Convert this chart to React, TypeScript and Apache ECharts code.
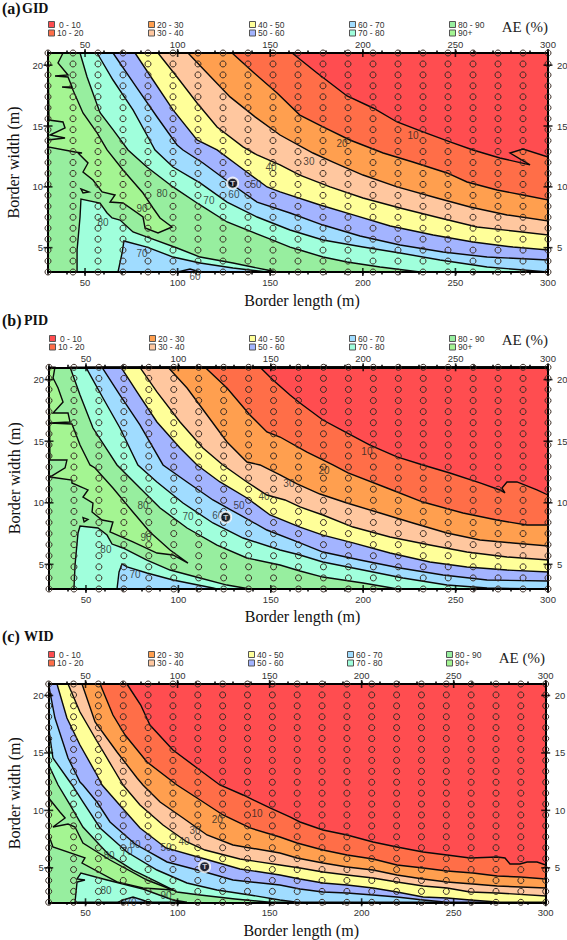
import React, { useEffect, useRef } from "react";
import * as echarts from "echarts";

type Pt = [number, number];
type Lab = [number, number, string];

const legendLabels = ["0 - 10", "10 - 20", "20 - 30", "30 - 40", "40 - 50", "50 - 60", "60 - 70", "70 - 80", "80 - 90", "90+"];
const bandColors = ["#FF4D50", "#FF6E48", "#FF9F4F", "#FFC79F", "#FFFF99", "#A3B4FF", "#A0DCFF", "#A0FFDC", "#97EE9F", "#A4F592"];
const lengthTicks = [50, 100, 150, 200, 250, 300];
const widthTicks = [5, 10, 15, 20];
const sampleLengths = [30, 43.5, 57, 70.5, 84, 97.5, 111, 124.5, 138, 151.5, 165, 178.5, 192, 205.5, 219, 232.5, 246, 259.5, 273, 286.5, 300];
const sampleWidthsAB = [3, 3.9, 4.8, 5.7, 6.6, 7.5, 8.4, 9.3, 10.2, 11.1, 12, 12.9, 13.8, 14.7, 15.6, 16.5, 17.4, 18.3, 19.2, 20.1, 21];
const sampleWidthsC = [2, 2.95, 3.9, 4.85, 5.8, 6.75, 7.7, 8.65, 9.6, 10.55, 11.5, 12.45, 13.4, 14.35, 15.3, 16.25, 17.2, 18.15, 19.1, 20.05, 21];

// ---------- (a) GID ----------
const gid10: Pt[] = [[161.8,21],[175.3,19.36],[191.5,17.47],[205.5,16.48],[218.5,15.33],[232.5,14.51],[247.1,13.69],[259.5,13.03],[274,12.37],[290.3,11.8],[279.5,12.78],[286.5,13.11],[300,12.45]];
const gid20: Pt[] = [[129.4,21],[140.7,19.44],[153.7,17.71],[166,15.9],[178.5,14.92],[193,13.85],[211,12.78],[227,12.04],[245.5,11.14],[256.3,10.4],[272.5,9.74],[286.5,9.33],[300,8.92]];
const gid30: Pt[] = [[105.6,21],[115.9,19.36],[128.3,17.39],[141.8,15.75],[155.3,14.26],[173.1,12.78],[183.9,12.04],[200.1,10.97],[218.5,9.99],[240,9.08],[257.9,8.34],[277.9,7.69],[300,7.19]];
const gid40: Pt[] = [[89.4,21],[99.7,19.03],[110.5,16.89],[121.3,14.92],[135.3,13.28],[142.9,12.62],[155.3,11.8],[166,10.97],[182.3,9.99],[200.1,9.08],[220.1,8.26],[241.7,7.44],[261.7,6.7],[281.1,6.37],[300,6.04]];
const gid50: Pt[] = [[77,21],[86.7,18.78],[97.5,16.32],[110.5,13.85],[121.3,13.03],[133.7,11.63],[148.3,9.99],[155.3,9.58],[176.9,8.51],[194.8,7.69],[214.8,6.78],[238,6.04],[259.5,5.47],[281.1,5.05],[300,4.81]];
const gid60: Pt[] = [[65.1,21],[78.1,18.12],[88.9,15.74],[99.7,13.44],[102.9,13.03],[113.7,11.96],[128.3,10.32],[142.9,8.75],[160.7,7.85],[178.5,6.86],[198.5,5.96],[220.1,5.22],[243.3,4.64],[267.1,4.23],[300,3.99]];
const gid70: Pt[] = [[56.5,21],[65.1,18.78],[75.9,16.32],[83.4,14.26],[87.8,13.03],[97.5,11.63],[112.1,10.32],[126.7,8.75],[142.9,7.52],[160.7,6.45],[178.5,5.63],[200.1,5.05],[220.1,4.56],[241.7,3.99],[267.1,3.41],[300,3]];
const gid80: Pt[] = [[47.3,21],[51.1,19.03],[58.1,16.1],[65.1,14.7],[73.2,13.03],[83.4,11.63],[97.5,9.99],[112.1,8.51],[126.7,7.11],[148.3,5.8],[160.7,5.05],[166,4.81],[178.5,4.23],[191.5,3.82],[209.3,3.41],[230.9,3]];
const gid90Lobe: Pt[] = [[38.1,21],[35.4,20.18],[40.8,19.19],[33.8,19.11],[40.8,19.03],[43,18.21],[37.6,18.21],[43,18.12],[48.9,16.07],[56.5,14.43],[61.9,13.03],[70.5,11.38],[81.3,9.49],[86.7,8.26],[90.5,7.44],[97,6.7],[89.4,6.21],[82.4,6.62],[81.3,7.52],[70.5,8.67],[63.5,8.75],[66.2,9.33],[59.2,9.58],[54.3,10.56],[48.9,11.22],[51.6,11.96],[46.2,12.78],[48.4,12.78],[44.6,12.86],[30,13.28],[30,13.85],[39.2,14.01],[31.1,14.26],[39.2,14.84],[38.1,15.33],[30.5,15.49],[30,21]];
const gid90Islet: Pt[] = [[47.8,9.82],[52.1,9.58],[48.9,9.49]];
const gidLow80: Pt[] = [[45.7,3],[45.7,4.81],[47.3,7.52],[47.8,9],[58.1,8.67],[61.9,7.85],[64.6,7.44],[68.9,7.27],[75.9,6.29],[85.1,5.79],[99.7,4.97],[112.1,4.23],[129.9,3.74],[148.3,3.16],[153.7,3]];
const gidLow70: Pt[] = [[67.8,3],[70,4.56],[71,5.55],[83.5,5.05],[97.5,4.23],[112.1,3.74],[129.9,3.33],[148.3,3]];
const gidLow60: Pt[] = [[100,3],[106.7,3.25],[112.1,3]];
const gidLabels: Lab[] = [[227.1,14.26,"10"],[188.8,13.6,"20"],[170.9,12.12,"30"],[150.4,11.55,"40"],[142.3,10.23,"50"],[130.4,9.41,"60"],[116.9,8.84,"70"],[91.6,9.49,"80"],[80.8,8.26,"90"],[59.7,7.03,"80"],[80.8,4.56,"70"],[109.4,2.67,"60"]];
const gidOptimum: Pt = [129.7, 10.3];

// ---------- (b) PID ----------
const pid10: Pt[] = [[144.2,21],[151.2,19.97],[160.4,18.75],[165.8,18.1],[178.2,16.72],[191.2,15.67],[203.7,14.69],[218.3,13.72],[232.3,13.07],[246.9,12.42],[263.2,11.61],[274,11.04],[276.7,10.8],[275.1,11.2],[277.8,11.69],[283.2,11.69],[294,11.04],[300,10.63]];
const pid20: Pt[] = [[114.4,21],[126.3,19.32],[138.7,17.13],[147.9,15.75],[155,15.34],[169.6,14.12],[183.6,13.07],[191.8,12.42],[212.9,11.2],[232.3,10.06],[254,9.17],[272.4,8.6],[288.6,8.2],[300,8.2]];
const pid30: Pt[] = [[94.4,21],[104.7,19.32],[115.5,17.13],[126.3,14.94],[137.1,13.31],[144.2,13.07],[155,12.26],[164.2,11.53],[176.6,10.71],[191.2,9.98],[209.1,9.17],[226.9,8.36],[245.3,7.55],[263.2,6.98],[281,6.74],[300,6.49]];
const pid40: Pt[] = [[79.2,21],[88.4,19],[100.9,16.56],[113.3,14.45],[124.1,13.07],[137.1,11.69],[147.9,10.63],[157.7,10.23],[165.8,9.66],[178.2,9.01],[194.5,8.03],[214.5,7.22],[236.1,6.57],[256.1,6],[277.8,5.6],[300,5.35]];
const pid50: Pt[] = [[69,21],[77.6,19],[88.4,16.56],[100.9,14.45],[110.1,13.07],[122.5,11.69],[137.1,10.39],[149.6,9.01],[165.8,8.03],[178.2,7.38],[194.5,6.74],[214.5,5.92],[236.1,5.19],[256.1,4.79],[277.8,4.54],[300,4.38]];
const pid60: Pt[] = [[58.7,21],[68.4,18.75],[79.2,16.32],[91.7,13.07],[104.7,11.69],[118.7,10.23],[133.3,9.01],[147.9,7.79],[165.8,6.74],[178.2,6],[198.3,5.35],[219.9,4.71],[243.2,4.14],[267,3.73],[300,3.65]];
const pid70: Pt[] = [[50,21],[59.2,18.51],[68.4,16.07],[78.1,13.07],[88.4,11.69],[102.5,9.98],[118.7,8.36],[135,7.14],[155,6.17],[165.8,5.76],[178.2,5.19],[199.9,4.54],[221.5,3.89],[245.3,3.32],[267,3.08],[300,3]];
const pid80: Pt[] = [[41.4,21],[46.8,18.75],[53.8,16.07],[66.8,13.07],[77.6,11.44],[90.1,9.58],[104.7,7.95],[120.9,6.57],[137.1,5.52],[155,4.95],[165.8,4.46],[178.2,3.97],[199.9,3.49],[218.8,3]];
const pid90Lobe: Pt[] = [[33.2,21],[32.2,20.13],[34.9,19.32],[37.6,18.18],[32.2,17.29],[40.3,17.29],[41.4,16.56],[30.5,16.48],[42.4,16.4],[46.8,14.69],[52.2,13.07],[54.9,12.83],[64.6,11.2],[75.4,9.25],[84.6,7.63],[95.5,6.17],[105.2,5.11],[97.1,5.76],[88.4,5.92],[75.4,6.82],[63,7.63],[64.6,8.44],[58.7,8.6],[53.3,9.25],[53.8,9.98],[48.4,10.47],[51.1,11.04],[42.4,11.61],[42.4,11.85],[30.5,12.09],[38.7,12.83],[39.7,13.47],[30.5,13.47],[30,21]];
const pid90Islet: Pt[] = [[48.4,8.8],[51.1,8.65],[49,8.45]];
const pidLow80: Pt[] = [[43.5,3],[44.1,4.95],[45.7,7.55],[46.8,8.12],[56.5,7.95],[61.4,7.38],[64.1,6.65],[70,6.33],[83,5.35],[95.5,4.54],[111.7,3.89],[126.3,3.32],[138.7,3]];
const pidLow70: Pt[] = [[66.8,3],[67.9,4.38],[69.5,5.03],[72.2,4.79],[83,4.3],[97.1,3.73],[118.7,3.08],[120.9,3]];
const pidLabels: Lab[] = [[202,14.2,"10"],[178.8,12.66,"20"],[159.8,11.6,"30"],[146.3,10.55,"40"],[132.8,9.82,"50"],[121.4,8.93,"60"],[105.2,8.85,"70"],[80.9,9.82,"80"],[82.5,7.22,"90"],[60.8,6.17,"80"],[76.5,4.14,"70"]];
const pidOptimum: Pt = [125.6, 8.83];

// ---------- (c) WID ----------
const wid10: Pt[] = [[72.5,21],[80,19.17],[85,17.43],[97.5,15.25],[110.6,13.69],[123,12.21],[135.6,11.34],[150.2,10.21],[161.3,9.42],[166.5,8.99],[179,8.29],[192.1,7.86],[206.2,7.25],[219.2,6.81],[233.4,6.38],[246.4,6.12],[258.9,5.86],[273.6,5.94],[277.9,5.86],[280.6,5.33],[286,5.33],[289.9,5.51],[295.3,5.51],[300,5.25]];
const wid20: Pt[] = [[57.9,21],[64.9,18.3],[71.5,16.56],[83.4,14.21],[99.7,12.21],[110.6,11.08],[124.7,9.6],[139.4,8.47],[155.6,7.68],[164.9,7.16],[179,6.55],[192.1,6.12],[206.2,5.77],[219.2,5.25],[233.4,4.99],[246.4,4.72],[260.5,4.55],[273.6,4.29],[286,4.2],[300,4.03]];
const wid30: Pt[] = [[48.1,21],[55.2,17.69],[67.1,15.08],[78,12.82],[81.2,12.21],[90.5,10.73],[103,9.34],[116,7.86],[130.1,6.99],[155.6,6.29],[164.9,5.86],[179,5.42],[192.1,5.07],[206.2,4.81],[219.2,4.38],[233.4,4.03],[246.4,3.77],[260.5,3.59],[273.6,3.42],[300,3.24]];
const wid40: Pt[] = [[40.5,21],[47,18.56],[55.2,16.3],[64.9,13.69],[70.4,12.21],[79.6,10.47],[92.1,8.73],[105.1,7.25],[114.9,6.55],[133.9,5.77],[155.6,5.25],[166.5,4.99],[179,4.64],[192.1,4.38],[206.2,4.11],[219.2,3.77],[233.4,3.42],[246.4,3.24],[258.9,2.9],[273.6,2.81],[300,2.55]];
const wid50: Pt[] = [[34.5,21],[39.9,18.04],[47,15.69],[56.2,13.08],[59,12.21],[67.1,10.73],[79.6,8.47],[93.7,6.73],[114.9,5.77],[133.9,4.9],[155.6,4.38],[166.5,4.03],[179,3.68],[192.1,3.51],[206.2,3.24],[219.2,2.9],[233.4,2.46],[246.4,2.37],[258.9,2.2],[273.6,2.03],[282.3,2]];
const wid60: Pt[] = [[30,21],[30.7,20.3],[33.4,18.04],[40.5,14.56],[47,12.47],[48.6,12.21],[56.2,10.73],[63.3,8.99],[76.9,7.07],[94.3,5.51],[114.9,4.64],[130.1,3.94],[155.6,3.51],[166.5,3.16],[179,2.9],[192.1,2.81],[206.2,2.64],[219.2,2.46],[233.4,2.2],[246.4,2]];
const wid70: Pt[] = [[30,17.17],[32.3,14.56],[42.7,12.21],[48.6,10.73],[57.9,8.47],[72.5,6.38],[88.8,4.81],[105.1,3.68],[121.4,3.07],[139.3,2.64],[155.6,2.2],[164.9,2]];
const wid80: Pt[] = [[30,13.95],[35.1,12.21],[41.6,10.47],[48.6,8.55],[62.8,6.12],[75.8,4.81],[88.8,3.77],[99.7,2.9],[112.2,2.64],[131.2,2.29],[150.2,2]];
const wid90Lobe: Pt[] = [[30,11.08],[36.1,9.86],[38.9,9.34],[32.3,8.55],[40.5,8.81],[44.3,8.55],[48.6,7.16],[63.3,5.68],[83.4,3.94],[97.5,3.07],[81.2,3.24],[67.1,3.77],[48.1,5.42],[49.7,5.86],[32.3,6.81],[30,7.86]];
const widLow80: Pt[] = [[44.3,2],[45.4,3.77],[49.7,3.94],[45.4,4.03],[47.5,4.55],[61.7,3.94],[81.2,3.16],[97.5,2.2],[105.1,2]];
const widLow70: Pt[] = [[67.6,2],[70.4,2.2],[75.8,2.46],[83.4,2.07],[86.1,2]];
const widLabels: Lab[] = [[143.2,9.77,"10"],[121.6,9.25,"20"],[109.5,8.21,"30"],[103.5,7.25,"40"],[93.7,6.73,"50"],[76.9,7.07,"60"],[72.5,6.38,"70"],[62.8,6.03,"80"],[61.1,3.07,"80"],[93.7,2.55,"90"],[74.7,2.02,"70"]];
const widOptimum: Pt = [114.7, 5.1];

// Painter's order: each curve fills towards the upper right of the plot.
const panels = [
  { tag: "(a)", name: "GID", tagY: 8, box: { left: 48, top: 53, width: 500, height: 219 }, yMin: 3, samples: sampleWidthsAB, legendX: [51, 151, 252, 352, 452], legendY: 24.5, aeX: 548, aeY: 27, nameX: 22, gap: 20,
    upper: [gid80, gid70, gid60, gid50, gid40, gid30, gid20, gid10], lobes: [gid90Lobe, gid90Islet], low: [gidLow80, gidLow70, gidLow60], labels: gidLabels, optimum: gidOptimum },
  { tag: "(b)", name: "PID", tagY: 320, box: { left: 49, top: 367.3, width: 499, height: 221.7 }, yMin: 3, samples: sampleWidthsAB, legendX: [52, 152, 252, 352, 452], legendY: 338.5, aeX: 548, aeY: 340, nameX: 24, gap: 19,
    upper: [pid80, pid70, pid60, pid50, pid40, pid30, pid20, pid10], lobes: [pid90Lobe, pid90Islet], low: [pidLow80, pidLow70], labels: pidLabels, optimum: pidOptimum },
  { tag: "(c)", name: "WID", tagY: 636, box: { left: 48.7, top: 684, width: 497, height: 218.3 }, yMin: 2, samples: sampleWidthsC, legendX: [51, 151, 251, 350, 449], legendY: 654.5, aeX: 545, aeY: 658, nameX: 24, gap: 20,
    upper: [wid80, wid70, wid60, wid50, wid40, wid30, wid20, wid10], lobes: [wid90Lobe], low: [widLow80, widLow70], labels: widLabels, optimum: widOptimum },
];

const SANS = "'Liberation Sans', Arial, sans-serif";
const SERIF = "'Liberation Serif', 'Times New Roman', serif";

function regionSeries(points: Pt[], fill: string, xi: number, stroke = true) {
  return {
    type: "custom",
    xAxisIndex: xi,
    yAxisIndex: xi,
    coordinateSystem: "cartesian2d",
    z: 2,
    silent: true,
    data: points,
    encode: { x: 0, y: 1 },
    renderItem: (params: any, api: any) => {
      if (params.dataIndex !== 0) return null;
      return {
        type: "polygon",
        shape: { points: points.map((p) => api.coord(p)) },
        style: { fill, stroke: stroke ? "#0a0a0a" : "none", lineWidth: 1.4, lineJoin: "miter" },
      };
    },
  };
}

function closeUpper(curve: Pt[]): Pt[] {
  const first = curve[0];
  const last = curve[curve.length - 1];
  return [...curve, [300, last[1]], [300, 21], [first[0], 21]];
}

function axisBase(min: number, max: number, interval: number) {
  return {
    type: "value",
    min,
    max,
    interval,
    z: 5,
    splitLine: { show: false },
    axisLine: { show: true, onZero: false, lineStyle: { color: "#000", width: 2 } },
  };
}

function buildOption() {
  const grid: any[] = [];
  const xAxis: any[] = [];
  const yAxis: any[] = [];
  const series: any[] = [];
  const graphic: any[] = [];

  panels.forEach((p, i) => {
    const xi = i * 2;
    grid.push({ ...p.box, containLabel: false, outerBoundsMode: "none" });

    const xLabel = (margin: number) => ({ customValues: lengthTicks, margin, fontFamily: SANS, fontSize: 9.5, color: "#333", showMinLabel: true, showMaxLabel: true });
    const xTick = { show: true, length: 2.5, lineStyle: { color: "#000", width: 1.5 } };
    xAxis.push({
      ...axisBase(30, 300, 10), gridIndex: i, position: "bottom", axisTick: xTick, axisLabel: xLabel(5),
      name: "Border length (m)", nameLocation: "middle", nameGap: p.gap, nameTextStyle: { fontFamily: SERIF, fontSize: 16, color: "#111", padding: [0, 0, 0, 8] },
    });
    xAxis.push({ ...axisBase(30, 300, 10), gridIndex: i, position: "top", axisTick: xTick, axisLabel: xLabel(4) });

    const yLabel = (margin: number) => ({ customValues: widthTicks, margin, fontFamily: SANS, fontSize: 9.5, color: "#333" });
    yAxis.push({
      ...axisBase(p.yMin, 21, 1), gridIndex: i, position: "left", axisTick: { show: false }, axisLabel: yLabel(5),
      name: "Border width (m)", nameLocation: "middle", nameGap: 26, nameTextStyle: { fontFamily: SERIF, fontSize: 16, color: "#111" },
    });
    yAxis.push({ ...axisBase(p.yMin, 21, 1), gridIndex: i, position: "right", axisTick: { show: false }, axisLabel: yLabel(9) });

    // base band, then nested regions
    series.push(regionSeries([[30, p.yMin], [300, p.yMin], [300, 21], [30, 21]], bandColors[8], xi, false));
    p.lobes.forEach((l) => series.push(regionSeries(l, bandColors[9], xi)));
    p.low.forEach((l, k) => series.push(regionSeries(l, bandColors[7 - k], xi)));
    p.upper.forEach((c, k) => series.push(regionSeries(closeUpper(c), bandColors[7 - k], xi)));

    // sampling circles
    const samplePts: Pt[] = [];
    sampleLengths.forEach((x) => p.samples.forEach((y) => samplePts.push([x, y])));
    series.push({
      type: "scatter", xAxisIndex: xi, yAxisIndex: xi, z: 6, clip: false, silent: true, data: samplePts,
      symbol: "circle", symbolSize: 6,
      itemStyle: { color: "rgba(0,0,0,0)", borderColor: "#3a2c24", borderWidth: 1, opacity: 1 },
    });

    // crossing major ticks
    const xMajor: Pt[] = [];
    lengthTicks.forEach((x) => { xMajor.push([x, 21]); xMajor.push([x, p.yMin]); });
    series.push({ type: "scatter", xAxisIndex: xi, yAxisIndex: xi, z: 7, clip: false, silent: true, data: xMajor, symbol: "rect", symbolSize: [1.6, 8], itemStyle: { color: "#000" } });
    const yMajor: Pt[] = [];
    widthTicks.forEach((y) => { yMajor.push([30, y]); yMajor.push([300, y]); });
    series.push({ type: "scatter", xAxisIndex: xi, yAxisIndex: xi, z: 7, clip: false, silent: true, data: yMajor, symbol: "rect", symbolSize: [9, 1.6], itemStyle: { color: "#000" } });

    // contour labels
    series.push({
      type: "scatter", xAxisIndex: xi, yAxisIndex: xi, z: 8, clip: false, silent: true, data: p.labels,
      symbolSize: 1, itemStyle: { color: "rgba(0,0,0,0)" },
      label: { show: true, position: "inside", formatter: (d: any) => d.value[2], fontFamily: SANS, fontSize: 10, color: "#222" },
    });

    // optimum marker
    series.push({
      type: "scatter", xAxisIndex: xi, yAxisIndex: xi, z: 9, clip: false, silent: true, data: [p.optimum],
      symbol: "circle", symbolSize: 11,
      itemStyle: { color: "#000", borderColor: "#fff", borderWidth: 2 },
      label: { show: true, position: "inside", formatter: "T", fontFamily: SANS, fontWeight: "bold", fontSize: 8, color: "#fff" },
    });

    // panel heading
    graphic.push({ type: "text", x: 2, y: p.tagY, style: { text: p.tag, fontFamily: SERIF, fontWeight: "bold", fontSize: 16, fill: "#111", textVerticalAlign: "middle" } });
    graphic.push({ type: "text", x: p.nameX, y: p.tagY, style: { text: p.name, fontFamily: SERIF, fontWeight: "bold", fontSize: 14, fill: "#111", textVerticalAlign: "middle" } });

    // legend
    legendLabels.forEach((label, k) => {
      const col = Math.floor(k / 2);
      const row = k % 2;
      const x0 = p.legendX[col];
      const yc = p.legendY + row * 8.5;
      graphic.push({ type: "rect", shape: { x: x0 - 2.5, y: yc - 3, width: 6, height: 6 }, style: { fill: bandColors[k], stroke: "#555", lineWidth: 1 } });
      const textX = k === 0 ? x0 + 8 : x0 + 6;
      graphic.push({ type: "text", x: textX, y: yc, style: { text: label, fontFamily: SANS, fontSize: 8.5, fill: "#333", textVerticalAlign: "middle" } });
    });
    graphic.push({ type: "text", x: p.aeX, y: p.aeY, style: { text: "AE (%)", fontFamily: SERIF, fontSize: 15, fill: "#222", textAlign: "right", textVerticalAlign: "middle" } });
  });

  return { animation: false, backgroundColor: "#fff", grid, xAxis, yAxis, series, graphic };
}

export default function App() {
  const ref = useRef<HTMLDivElement>(null);
  useEffect(() => {
    document.body.style.margin = "0";
    const chart = echarts.init(ref.current!, undefined, { renderer: "svg" });
    chart.setOption(buildOption() as any);
    return () => chart.dispose();
  }, []);
  return <div ref={ref} style={{ position: "absolute", left: 0, top: 0, width: 567, height: 940 }} />;
}
